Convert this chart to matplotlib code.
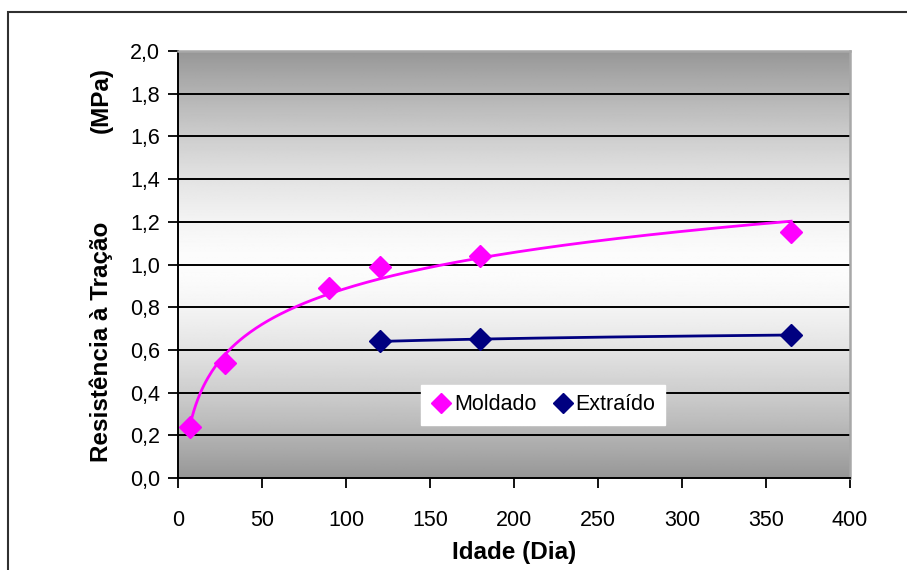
import numpy as np
import matplotlib
matplotlib.use("Agg")
import matplotlib.pyplot as plt
from matplotlib.patches import Rectangle
from matplotlib.lines import Line2D

plt.rcParams['font.family'] = ['Liberation Sans', 'DejaVu Sans']

# data
idade_moldado = [7, 28, 90, 120, 180, 365]
res_moldado = [0.24, 0.54, 0.89, 0.99, 1.04, 1.15]
idade_extraido = [120, 180, 365]
res_extraido = [0.64, 0.65, 0.67]

y_ticks = [0.0, 0.2, 0.4, 0.6, 0.8, 1.0, 1.2, 1.4, 1.6, 1.8, 2.0]
x_ticks = [0, 50, 100, 150, 200, 250, 300, 350, 400]

magenta = '#ff00ff'
navy = '#000080'

fig = plt.figure(figsize=(9.07, 5.70), dpi=100)
ax = fig.add_axes([178 / 907, 1 - 478 / 570, 672 / 907, 427 / 570])

# outer chart frame (runs off the right and bottom of the picture)
fig.patches.append(Rectangle((8 / 907, -0.05), 1.0, 1 - 12 / 570 + 0.05,
                             transform=fig.transFigure, fill=False,
                             edgecolor='#303030', lw=1.5, zorder=0))

# gradient background, dark at top and bottom, light in the middle
t = np.linspace(0, 1, 400)
d = np.abs(t - 0.5) / 0.5
shade = 0.59 + 0.40 * (1 - d ** 1.5)
grad = np.tile(shade[:, None], (1, 2))
ax.imshow(grad, cmap='gray', vmin=0, vmax=1, aspect='auto',
          extent=[0, 400, 0, 2.0], origin='lower', zorder=0)

# horizontal gridlines
for yv in y_ticks[1:]:
    ax.axhline(yv, color='black', lw=1.4, zorder=1)

# logarithmic trend lines (Excel style)
a1, b1 = np.polyfit(np.log(idade_moldado), res_moldado, 1)
xx1 = np.linspace(min(idade_moldado), max(idade_moldado), 300)
ax.plot(xx1, a1 * np.log(xx1) + b1, color=magenta, lw=2.0, zorder=3)

a2, b2 = np.polyfit(np.log(idade_extraido), res_extraido, 1)
xx2 = np.linspace(min(idade_extraido), max(idade_extraido), 300)
ax.plot(xx2, a2 * np.log(xx2) + b2, color=navy, lw=2.0, zorder=3)

ax.plot(idade_moldado, res_moldado, ls='none', marker='D', ms=11,
        color=magenta, zorder=4)
ax.plot(idade_extraido, res_extraido, ls='none', marker='D', ms=11,
        color=navy, zorder=4)

ax.set_xlim(0, 400)
ax.set_ylim(0, 2.0)
ax.set_xticks(x_ticks)
ax.set_yticks(y_ticks)
ax.set_yticklabels([f"{v:.1f}".replace('.', ',') for v in y_ticks])
ax.tick_params(axis='both', direction='out', length=7, width=1.3,
               colors='black', labelsize=15.5, pad=6)
ax.tick_params(axis='x', pad=16)

for s in ['left', 'bottom']:
    ax.spines[s].set_color('black')
    ax.spines[s].set_linewidth(1.4)
for s in ['top', 'right']:
    ax.spines[s].set_color('#a8a8a8')
    ax.spines[s].set_linewidth(1.8)

ax.set_xlabel('Idade (Dia)', fontsize=17.5, fontweight='bold', labelpad=7)
fig.text(101 / 907, 1 - 342 / 570, 'Resistência à Tração', rotation=90,
         fontsize=17.5, fontweight='bold', ha='center', va='center')
fig.text(101 / 907, 1 - 100 / 570, '(MPa)', rotation=90,
         fontsize=17.5, fontweight='bold', ha='center', va='center')

handles = [Line2D([], [], ls='none', marker='D', ms=10, color=magenta),
           Line2D([], [], ls='none', marker='D', ms=10, color=navy)]
leg = ax.legend(handles, ['Moldado', 'Extraído'], ncol=2, loc='center',
                bbox_to_anchor=((543 - 178) / 672, (478 - 405) / 427),
                frameon=True, fancybox=False, framealpha=1, edgecolor='white',
                fontsize=15.5, handletextpad=0.1, columnspacing=0.7,
                borderpad=0.45, handlelength=1.0)
leg.set_zorder(5)

fig.savefig('out.png', dpi=100)
